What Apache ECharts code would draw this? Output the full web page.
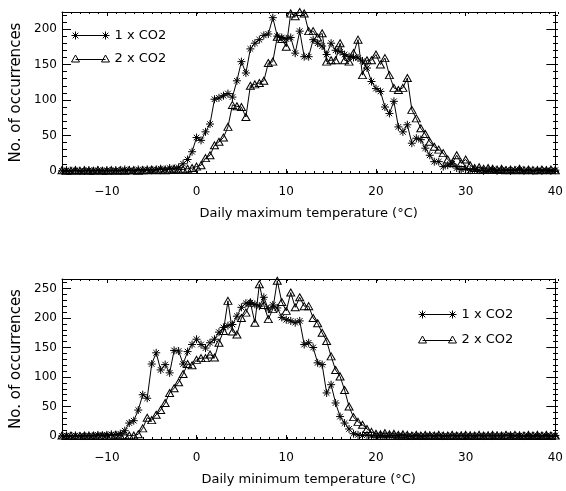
<!DOCTYPE html>
<html><head><meta charset="utf-8">
<script src="https://cdn.jsdelivr.net/npm/echarts@6/dist/echarts.min.js"></script>
<style>html,body{margin:0;padding:0;background:#fff}#c{width:566px;height:491px}</style>
</head><body><div id="c"></div>
<script>
// temperature bins (°C)
const temps = [
 -15,-14.5,-14,-13.5,-13,-12.5,-12,-11.5,-11,-10.5,
 -10,-9.5,-9,-8.5,-8,-7.5,-7,-6.5,-6,-5.5,
 -5,-4.5,-4,-3.5,-3,-2.5,-2,-1.5,-1,-0.5,
 0,0.5,1,1.5,2,2.5,3,3.5,4,4.5,
 5,5.5,6,6.5,7,7.5,8,8.5,9,9.5,
 10,10.5,11,11.5,12,12.5,13,13.5,14,14.5,
 15,15.5,16,16.5,17,17.5,18,18.5,19,19.5,
 20,20.5,21,21.5,22,22.5,23,23.5,24,24.5,
 25,25.5,26,26.5,27,27.5,28,28.5,29,29.5,
 30,30.5,31,31.5,32,32.5,33,33.5,34,34.5,
 35,35.5,36,36.5,37,37.5,38,38.5,39,39.5,40];
// Daily maximum temperature
const tmax1xCO2 = [
 0,1,0,1,0,0,1,0,1,0,
 1,0,1,0,2,1,0,2,1,2,
 1,2,3,2,4,3,5,10,16,27,
 47,43,55,66,101,103,106,109,104,127,
 154,138,172,180,185,191,193,216,190,188,
 186,188,166,197,161,161,185,180,176,164,
 180,170,168,164,161,160,159,155,145,126,
 116,112,90,81,98,62,55,65,39,46,
 44,32,22,13,13,6,8,10,4,2,
 3,1,2,1,0,1,2,0,1,1,
 0,1,2,0,1,0,1,0,1,0,1];
const tmax2xCO2 = [
 1,0,0,1,0,1,0,0,1,0,
 0,1,0,1,0,1,1,0,1,1,
 2,1,2,1,2,3,2,2,3,4,
 6,8,18,22,36,41,47,62,93,91,
 90,76,120,122,124,127,152,154,189,186,
 175,222,218,224,222,197,197,188,194,154,
 156,156,180,156,154,166,185,135,156,156,
 164,150,159,135,117,114,117,131,86,74,
 60,52,41,34,30,25,16,11,22,11,
 16,8,4,5,3,4,3,2,3,1,
 2,1,3,1,2,1,1,2,1,2,1];
// Daily minimum temperature
const tmin1xCO2 = [
 0,1,0,1,0,0,1,0,2,1,
 2,3,2,4,9,22,26,44,70,64,
 122,141,112,121,107,145,144,122,143,155,
 164,155,149,158,164,176,184,187,189,203,
 218,225,226,223,220,235,215,222,217,201,
 197,195,192,195,155,158,150,124,121,73,
 87,56,33,22,12,4,2,1,2,0,
 1,0,1,0,1,0,1,0,0,1,
 0,0,1,0,1,0,0,1,0,1,
 0,1,0,1,0,1,0,1,0,1,
 1,0,1,0,1,0,1,0,1,0,1];
const tmin2xCO2 = [
 1,0,1,0,0,1,0,1,0,1,
 0,1,2,1,2,1,1,3,13,31,
 27,36,44,56,73,81,91,105,122,120,
 129,132,132,138,133,158,178,229,177,172,
 200,209,226,192,257,222,198,215,263,227,
 212,243,218,235,220,220,200,191,175,161,
 135,112,101,78,50,32,24,19,12,7,
 4,3,5,3,4,2,3,2,1,2,
 1,2,1,1,2,1,1,2,1,1,
 2,1,1,2,1,1,2,1,1,2,
 1,2,1,1,2,1,2,1,2,1,1];
const seriesNames = ['1 x CO2', '2 x CO2'];
const xTickLabels = [-10, 0, 10, 20, 30, 40];
const yTickLabelsTop = [0, 50, 100, 150, 200];
const yTickLabelsBottom = [0, 50, 100, 150, 200, 250];
const xTitles = ['Daily maximum temperature (\u00B0C)', 'Daily minimum temperature (\u00B0C)'];
const yTitle = 'No. of occurrences';

function range(a, b, s) { const r = []; for (let v = a; v <= b + 1e-9; v += s) r.push(v); return r; }
const xMinor = range(-15, 40, 1);
const yMinorTop = range(0, 220, 10);
const yMinorBottom = range(0, 260, 10);

const FONT = 'DejaVu Sans';
const INK = '#000';
const STAR = 'path://M0,4 L8,4 M4,0 L4,8 M1.2,1.2 L6.8,6.8 M6.8,1.2 L1.2,6.8';
const TRI = 'path://M4,0 L8,7 L0,7 Z';
const STAR_LEG = 'path://M0,4 L8,4 M4,0 L4,8 M1.2,1.2 L6.8,6.8 M6.8,1.2 L1.2,6.8 M4,4 L34,4 M30,4 L38,4 M34,0 L34,8 M31.2,1.2 L36.8,6.8 M36.8,1.2 L31.2,6.8';
const TRI_LEG = 'path://M4,0 L8,7 L0,7 Z M4,4.5 L34,4.5 M34,0 L38,7 L30,7 Z';

const panels = [
  {top: 12, height: 161, ymin: -3, ymax: 224, yMajor: yTickLabelsTop, yMinor: yMinorTop, d1: tmax1xCO2, d2: tmax2xCO2, title: xTitles[0]},
  {top: 279, height: 160, ymin: -5, ymax: 266, yMajor: yTickLabelsBottom, yMinor: yMinorBottom, d1: tmin1xCO2, d2: tmin2xCO2, title: xTitles[1]}
];

const grid = [], xAxis = [], yAxis = [], series = [];
const fmt = v => String(v).replace('-', '\u2212');
panels.forEach((p, k) => {
  const gMain = grid.length;
  grid.push({left: 62, width: 496, top: p.top, height: p.height, containLabel: false});
  grid.push({left: 62, width: 496, top: p.top, height: p.height, containLabel: false});
  const gMinor = gMain + 1;
  const line = {show: true, onZero: false, lineStyle: {color: INK, width: 1}};
  const noLine = {show: false, onZero: false};
  const lbl = (vals, extra) => Object.assign({show: true, customValues: vals, formatter: fmt, color: INK, fontFamily: FONT, fontSize: 12}, extra);
  const tick = (vals, len) => ({show: true, inside: true, length: len, customValues: vals, lineStyle: {color: INK, width: 1}});
  const xBase = {type: 'value', min: -15, max: 40, splitLine: {show: false}, minorTick: {show: false}};
  const yBase = {type: 'value', min: p.ymin, max: p.ymax, splitLine: {show: false}, minorTick: {show: false}};
  const xi = xAxis.length;
  xAxis.push(Object.assign({}, xBase, {gridIndex: gMain, position: 'bottom', axisLine: line, axisTick: tick(xTickLabels, 4),
    axisLabel: lbl(xTickLabels, {margin: 13}), name: p.title, nameLocation: 'middle', nameGap: 34,
    nameTextStyle: {color: INK, fontFamily: FONT, fontSize: 13}}));
  xAxis.push(Object.assign({}, xBase, {gridIndex: gMain, position: 'top', axisLine: line, axisTick: tick(xTickLabels, 4), axisLabel: {show: false}}));
  xAxis.push(Object.assign({}, xBase, {gridIndex: gMinor, position: 'bottom', axisLine: noLine, axisTick: tick(xMinor, 2), axisLabel: {show: false}}));
  xAxis.push(Object.assign({}, xBase, {gridIndex: gMinor, position: 'top', axisLine: noLine, axisTick: tick(xMinor, 2), axisLabel: {show: false}}));
  const yi = yAxis.length;
  yAxis.push(Object.assign({}, yBase, {gridIndex: gMain, position: 'left', axisLine: line, axisTick: tick(p.yMajor, 9),
    axisLabel: lbl(p.yMajor, {margin: 5}), name: yTitle, nameLocation: 'middle', nameGap: 35,
    nameTextStyle: {color: INK, fontFamily: FONT, fontSize: 15}}));
  yAxis.push(Object.assign({}, yBase, {gridIndex: gMain, position: 'right', axisLine: line, axisTick: tick(p.yMajor, 9), axisLabel: {show: false}}));
  yAxis.push(Object.assign({}, yBase, {gridIndex: gMinor, position: 'left', axisLine: noLine, axisTick: tick(p.yMinor, 5), axisLabel: {show: false}}));
  yAxis.push(Object.assign({}, yBase, {gridIndex: gMinor, position: 'right', axisLine: noLine, axisTick: tick(p.yMinor, 5), axisLabel: {show: false}}));

  series.push({type: 'line', name: seriesNames[0], xAxisIndex: xi, yAxisIndex: yi,
    data: temps.map((t, i) => [t, p.d1[i]]), symbol: STAR, symbolSize: 8, showSymbol: true, showAllSymbol: true,
    lineStyle: {color: INK, width: 1}, itemStyle: {color: INK, borderColor: INK, borderWidth: 1}, z: 3});
  series.push({type: 'line', name: seriesNames[1], xAxisIndex: xi, yAxisIndex: yi,
    data: temps.map((t, i) => [t, p.d2[i]]), symbol: TRI, symbolSize: [8, 7], showSymbol: true, showAllSymbol: true,
    lineStyle: {color: INK, width: 1}, itemStyle: {color: 'rgba(0,0,0,0)', borderColor: INK, borderWidth: 1}, z: 2});
});

const legData = [
  {name: seriesNames[0], icon: STAR_LEG, itemStyle: {color: 'rgba(0,0,0,0)', borderColor: INK, borderWidth: 1}},
  {name: seriesNames[1], icon: TRI_LEG, itemStyle: {color: 'rgba(0,0,0,0)', borderColor: INK, borderWidth: 1}}
];
const legBase = {orient: 'vertical', itemWidth: 38, itemHeight: 8, selectedMode: false, padding: 0,
  textStyle: {color: INK, fontFamily: FONT, fontSize: 13}, data: legData};

const chart = echarts.init(document.getElementById('c'), null, {renderer: 'canvas'});
chart.setOption({
  animation: false,
  backgroundColor: '#fff',
  grid, xAxis, yAxis, series,
  legend: [
    Object.assign({}, legBase, {left: 71, top: 29, itemGap: 10}),
    Object.assign({}, legBase, {left: 418, top: 308, itemGap: 12})
  ]
});
</script>
</body></html>
